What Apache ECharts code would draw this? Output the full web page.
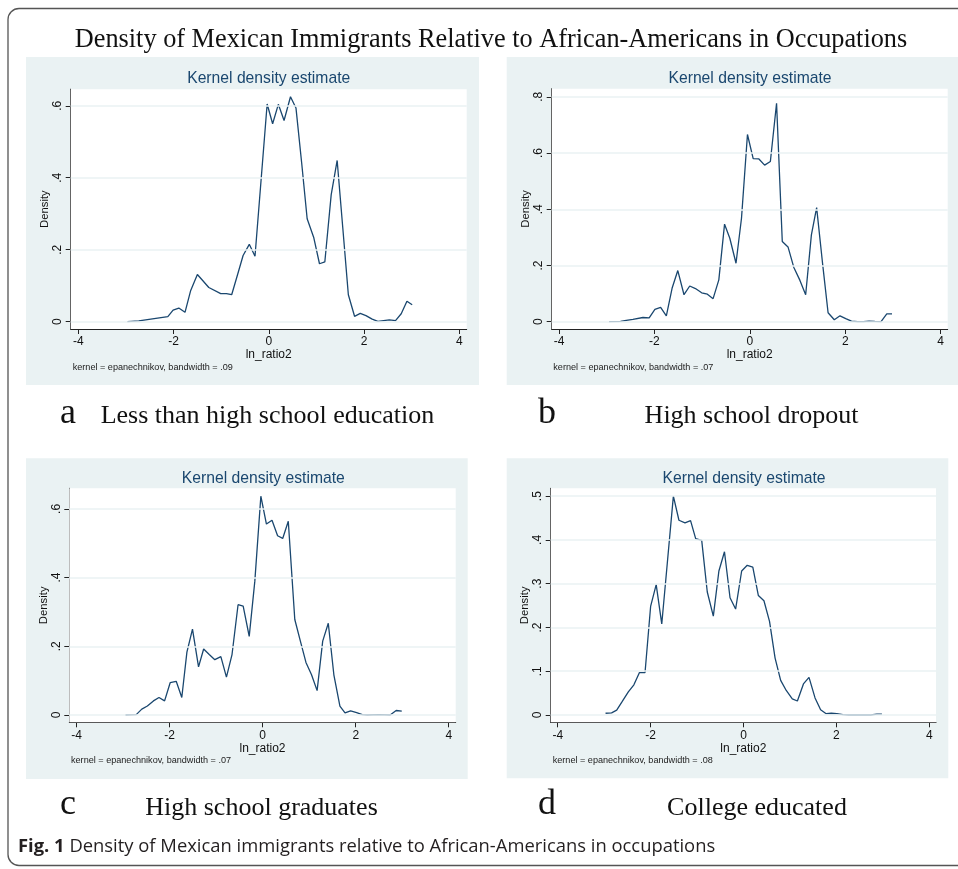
<!DOCTYPE html>
<html><head><meta charset="utf-8">
<script src="https://cdn.jsdelivr.net/npm/echarts@6/dist/echarts.min.js"></script>
<style>html,body{margin:0;padding:0;background:#fff}#c{width:958px;height:869px}</style>
</head><body><div id="c"></div>
<script>
// ---- data ----
const mainTitle = 'Density of Mexican Immigrants Relative to African-Americans in Occupations';
const panelTitle = 'Kernel density estimate';
const xName = 'ln_ratio2';
const yName = 'Density';
const panelLetters = ['a', 'b', 'c', 'd'];
const panelLabels = ['Less than high school education', 'High school dropout', 'High school graduates', 'College educated'];
const notes = ['kernel = epanechnikov, bandwidth = .09', 'kernel = epanechnikov, bandwidth = .07',
               'kernel = epanechnikov, bandwidth = .07', 'kernel = epanechnikov, bandwidth = .08'];
const xTicks = [-4, -2, 0, 2, 4];
const yTicksA = [0, 0.2, 0.4, 0.6];
const yTicksB = [0, 0.2, 0.4, 0.6, 0.8];
const yTicksC = [0, 0.2, 0.4, 0.6];
const yTicksD = [0, 0.1, 0.2, 0.3, 0.4, 0.5];

const xA = [-2.97,-2.73,-2.12,-2.01,-1.89,-1.76,-1.64,-1.50,-1.26,-1.01,-0.89,-0.78,-0.66,-0.54,-0.41,-0.29,-0.035,0.08,0.20,0.32,0.455,0.57,0.69,0.805,0.945,1.064,1.176,1.31,1.435,1.553,1.67,1.80,1.92,2.04,2.17,2.29,2.53,2.66,2.78,2.90,3.01];
const yA = [0,0.002,0.014,0.032,0.038,0.026,0.087,0.131,0.095,0.078,0.078,0.075,0.129,0.184,0.215,0.182,0.605,0.550,0.604,0.559,0.625,0.594,0.441,0.286,0.233,0.161,0.166,0.353,0.448,0.261,0.075,0.015,0.023,0.017,0.007,0.001,0.005,0.003,0.022,0.057,0.047];

const xB = [-2.95,-2.71,-2.59,-2.45,-2.24,-2.11,-1.99,-1.87,-1.75,-1.63,-1.51,-1.38,-1.26,-1.14,-1.01,-0.89,-0.77,-0.65,-0.53,-0.42,-0.29,-0.175,-0.05,0.07,0.19,0.31,0.43,0.56,0.68,0.80,0.92,1.05,1.17,1.29,1.40,1.52,1.64,1.77,1.89,2.01,2.13,2.26,2.38,2.50,2.62,2.75,2.87,2.98];
const yB = [0,0.001,0.005,0.008,0.015,0.014,0.044,0.051,0.021,0.119,0.182,0.096,0.127,0.118,0.103,0.098,0.082,0.149,0.347,0.297,0.208,0.368,0.666,0.580,0.579,0.557,0.570,0.777,0.285,0.266,0.194,0.147,0.096,0.309,0.406,0.214,0.032,0.007,0.021,0.011,0.002,0,0,0.002,0.001,0,0.028,0.028];

const xC = [-2.95,-2.72,-2.60,-2.48,-2.35,-2.23,-2.11,-1.99,-1.86,-1.74,-1.63,-1.51,-1.38,-1.27,-1.15,-1.03,-0.90,-0.78,-0.66,-0.53,-0.42,-0.29,-0.17,-0.04,0.08,0.20,0.32,0.43,0.55,0.69,0.81,0.93,1.05,1.17,1.29,1.41,1.53,1.66,1.77,1.89,2.02,2.14,2.25,2.50,2.74,2.87,2.99];
const yC = [0,0.001,0.017,0.026,0.041,0.051,0.041,0.094,0.098,0.051,0.183,0.250,0.140,0.192,0.176,0.161,0.170,0.110,0.176,0.321,0.317,0.229,0.389,0.637,0.556,0.567,0.522,0.514,0.564,0.278,0.215,0.153,0.117,0.071,0.215,0.267,0.117,0.026,0.006,0.012,0.007,0.001,0,0.001,0,0.013,0.011];

const xD = [-2.97,-2.84,-2.73,-2.61,-2.48,-2.36,-2.24,-2.12,-2.00,-1.88,-1.76,-1.64,-1.51,-1.39,-1.26,-1.14,-1.03,-0.90,-0.78,-0.65,-0.53,-0.41,-0.29,-0.17,-0.04,0.08,0.20,0.32,0.44,0.56,0.68,0.80,0.92,1.05,1.16,1.29,1.41,1.54,1.66,1.78,1.89,2.01,2.14,2.26,2.50,2.74,2.87,2.98];
const yD = [0.004,0.005,0.011,0.031,0.053,0.069,0.097,0.097,0.248,0.298,0.208,0.348,0.500,0.445,0.439,0.444,0.403,0.399,0.281,0.226,0.329,0.373,0.268,0.242,0.329,0.342,0.338,0.273,0.261,0.214,0.130,0.079,0.056,0.037,0.032,0.071,0.086,0.039,0.012,0.003,0.004,0.003,0.001,0,0,0,0.002,0.002];

// ---- layout / style ----
const NAVY = '#1a476f';
const BG = '#eaf2f3';
const SANS = '"Liberation Sans", Arial, sans-serif';
const SERIF = '"Liberation Serif", "Times New Roman", serif';

const panels = [
  {xs: xA, ys: yA, yt: yTicksA, grid: {left: 70.7, top: 89.2, width: 396, height: 239.8}, xr: [-4.16, 4.155], yr: [-0.0203, 0.646],
   bg: [26, 57, 453, 328], titleXY: [268.7, 78.3], noteXY: [72.7, 367.7]},
  {xs: xB, ys: yB, yt: yTicksB, grid: {left: 551.7, top: 88.8, width: 396, height: 240.2}, xr: [-4.153, 4.147], yr: [-0.0259, 0.8285],
   bg: [506.7, 57, 452, 328], titleXY: [750, 78.3], noteXY: [553.3, 367.7]},
  {xs: xC, ys: yC, yt: yTicksC, grid: {left: 69.3, top: 488.3, width: 386.4, height: 234}, xr: [-4.159, 4.15], yr: [-0.0213, 0.660],
   bg: [26, 458.3, 441.7, 320.7], titleXY: [263.3, 478.3], noteXY: [71, 760.7]},
  {xs: xD, ys: yD, yt: yTicksD, grid: {left: 550.7, top: 488.3, width: 385.3, height: 234}, xr: [-4.151, 4.144], yr: [-0.0167, 0.518],
   bg: [506.7, 458.3, 441.6, 320], titleXY: [744, 478.3], noteXY: [552.7, 760.7]}
];

function fmtY(v) { return v === 0 ? '0' : String(+v.toFixed(2)).replace(/^0\./, '.'); }

const grids = [], xAxes = [], yAxes = [], series = [], graphics = [];

graphics.push({type: 'rect', shape: {x: 8, y: 8.5, width: 970, height: 857, r: 11},
  style: {fill: 'none', stroke: '#555', lineWidth: 1.3}, z: -5});

graphics.push({type: 'text', x: 491, y: 40, z: 10,
  style: {text: mainTitle, font: '26.3px ' + SERIF, fill: '#111', align: 'center', verticalAlign: 'middle'}});

const letterX = [60, 538, 60, 538];
const labelCX = [267.5, 751.5, 261.5, 757];

panels.forEach((p, i) => {
  grids.push(Object.assign({show: true, backgroundColor: '#ffffff', borderWidth: 0, z: 2}, p.grid));
  graphics.push({type: 'rect', shape: {x: p.bg[0], y: p.bg[1], width: p.bg[2], height: p.bg[3]},
    style: {fill: BG}, z: -1});
  graphics.push({type: 'text', x: p.titleXY[0], y: p.titleXY[1], z: 10,
    style: {text: panelTitle, font: '15.7px ' + SANS, fill: NAVY, align: 'center', verticalAlign: 'middle'}});
  graphics.push({type: 'text', x: p.noteXY[0], y: p.noteXY[1], z: 10,
    style: {text: notes[i], font: '9.1px ' + SANS, fill: '#222', align: 'left', verticalAlign: 'middle'}});
  const rowY = i < 2 ? 416.5 : 808;
  graphics.push({type: 'text', x: letterX[i], y: rowY - 3, z: 10,
    style: {text: panelLetters[i], font: '36px ' + SERIF, fill: '#111', align: 'left', verticalAlign: 'middle'}});
  graphics.push({type: 'text', x: labelCX[i], y: rowY, z: 10,
    style: {text: panelLabels[i], font: '26px ' + SERIF, fill: '#111', align: 'center', verticalAlign: 'middle'}});

  xAxes.push({
    type: 'value', gridIndex: i, min: p.xr[0], max: p.xr[1],
    name: xName, nameLocation: 'middle', nameGap: 17,
    nameTextStyle: {fontFamily: SANS, fontSize: 12, color: '#111'},
    axisLine: {onZero: false, lineStyle: {color: '#222', width: 1}},
    axisTick: {show: true, length: 5, customValues: xTicks, lineStyle: {color: '#222'}},
    axisLabel: {customValues: xTicks, margin: 7, fontFamily: SANS, fontSize: 12, color: '#111',
      formatter: v => String(v)},
    splitLine: {show: false}
  });
  yAxes.push({
    type: 'value', gridIndex: i, min: p.yr[0], max: p.yr[1],
    name: yName, nameLocation: 'middle', nameGap: 20, nameRotate: 90,
    nameTextStyle: {fontFamily: SANS, fontSize: 11.3, color: '#111'},
    axisLine: {show: true, onZero: false, lineStyle: {color: '#222', width: 1}},
    axisTick: {show: true, length: 5, customValues: p.yt, lineStyle: {color: '#222'}},
    axisLabel: {customValues: p.yt, rotate: 90, margin: 7, fontFamily: SANS, fontSize: 12, color: '#111',
      formatter: fmtY},
    splitLine: {show: false}
  });
  // horizontal grid lines at the y tick values
  series.push({
    type: 'line', xAxisIndex: i, yAxisIndex: i, data: [], z: 1, silent: true,
    markLine: {silent: true, symbol: ['none', 'none'], animation: false, label: {show: false},
      lineStyle: {color: BG, width: 1.6, type: 'solid'},
      data: p.yt.map(v => ({yAxis: v}))}
  });
  series.push({
    type: 'line', xAxisIndex: i, yAxisIndex: i, z: 3,
    data: p.xs.map((x, k) => [x, p.ys[k]]),
    showSymbol: false, symbol: 'none', smooth: false, animation: false,
    lineStyle: {color: NAVY, width: 1.3}
  });
});

graphics.push({type: 'text', x: 18, y: 847, z: 10,
  style: {
    text: '{b|Fig. 1} Density of Mexican immigrants relative to African-Americans in occupations',
    font: '18.4px "Open Sans", sans-serif', fill: '#231f20', align: 'left', verticalAlign: 'middle',
    rich: {b: {fontWeight: 'bold', fontSize: 18.4, fontFamily: '"Open Sans", sans-serif', fill: '#231f20'}}
  }});

const chart = echarts.init(document.getElementById('c'), null, {renderer: 'canvas'});
chart.setOption({
  backgroundColor: '#ffffff',
  animation: false,
  grid: grids, xAxis: xAxes, yAxis: yAxes, series: series,
  graphic: {elements: graphics}
});
</script>
</body></html>
